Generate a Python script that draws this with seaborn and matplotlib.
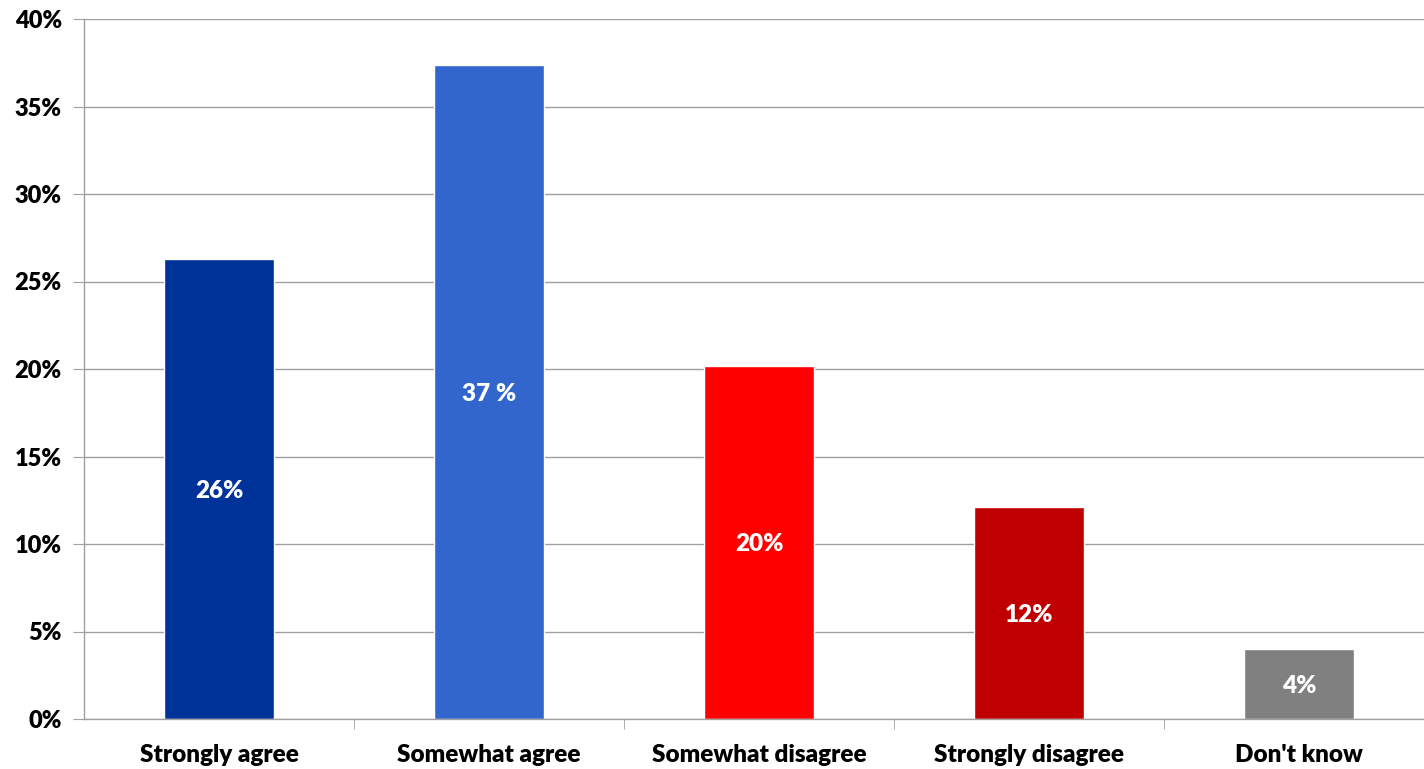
import pandas as pd
import matplotlib.pyplot as plt
import seaborn as sns

# Data
categories = ['Strongly agree', 'Somewhat agree', 'Somewhat disagree', 'Strongly disagree', "Don't know"]
values = [26.3, 37.4, 20.2, 12.1, 4.0]
bar_labels = ['26%', '37 %', '20%', '12%', '4%']
colors = ['#003399', '#3366CC', '#FF0000', '#C00000', '#808080']
y_ticks = [0, 5, 10, 15, 20, 25, 30, 35, 40]

df = pd.DataFrame({'Answer': categories, 'Share': values})

sns.set_style('white')
plt.rcParams['font.family'] = ['Lato', 'DejaVu Sans']

fig = plt.figure(figsize=(14.24, 7.69), dpi=100)
ax = fig.add_axes([84 / 1424, 50 / 769, 1340 / 1424, 700 / 769])

sns.barplot(data=df, x='Answer', y='Share', hue='Answer', palette=colors,
            width=0.404, legend=False, ax=ax, saturation=1)

# value labels centred in bars
for i, (v, lab) in enumerate(zip(values, bar_labels)):
    ax.text(i, v / 2, lab, ha='center', va='center_baseline', color='white',
            fontsize=17.5, fontweight='heavy')

ax.set_ylim(0, 40)
ax.set_xlim(-0.5, 4.5 - 10 / 270)
ax.set_yticks(y_ticks)
ax.set_yticklabels([f'{t}%' for t in y_ticks], fontsize=17, fontweight='heavy')
ax.set_xticks(range(len(categories)))
ax.set_xticklabels(categories, fontsize=17.5, fontweight='heavy')
ax.set_xlabel('')
ax.set_ylabel('')

# horizontal gridlines
ax.yaxis.grid(True, color='#a0a0a0', linewidth=1)
ax.set_axisbelow(True)

for s in ['top', 'right']:
    ax.spines[s].set_visible(False)
for s in ['left', 'bottom']:
    ax.spines[s].set_color('#a0a0a0')
    ax.spines[s].set_linewidth(1)

ax.tick_params(axis='y', length=8, color='#a0a0a0', labelcolor='black', pad=8, left=True)
ax.tick_params(axis='x', length=0, pad=18, labelcolor='black')
# category separator ticks
ax.set_xticks([0.5, 1.5, 2.5, 3.5], minor=True)
ax.tick_params(axis='x', which='minor', length=7, color='#a0a0a0', bottom=True)

fig.savefig('out.png', dpi=100)
